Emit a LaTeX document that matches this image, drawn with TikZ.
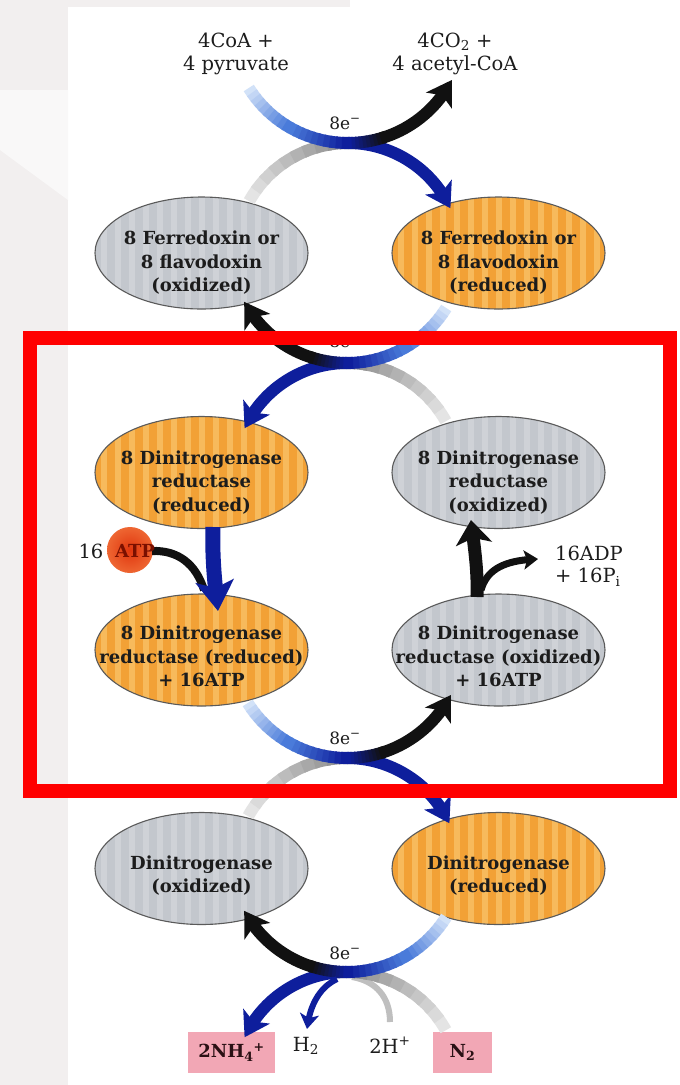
\documentclass[tikz,border=0pt]{standalone}
\usepackage{fontspec}
\setmainfont{DejaVu Serif}
\usetikzlibrary{arrows.meta,bending,shapes.geometric,calc}
\definecolor{bgg}{HTML}{F2EFEF}
\definecolor{gA}{HTML}{C3C7CD}
\definecolor{gB}{HTML}{CFD2D7}
\definecolor{oA}{HTML}{F2A136}
\definecolor{oB}{HTML}{F7BA5C}
\definecolor{eline}{HTML}{5A5A5A}
\definecolor{txt}{HTML}{1C1C1C}
\definecolor{lb}{HTML}{D2E2F8}
\definecolor{mb}{HTML}{4A7BDA}
\definecolor{db}{HTML}{0E1E9C}
\definecolor{bk}{HTML}{111111}
\definecolor{lg}{HTML}{E4E4E4}
\definecolor{mg}{HTML}{8A8A8A}
\definecolor{redline}{HTML}{FF0000}
\definecolor{pk}{HTML}{F2A7B5}
\definecolor{pktxt}{HTML}{2A1014}
\definecolor{atpin}{HTML}{E0360E}
\definecolor{atpout}{HTML}{EE6632}
\definecolor{atptxt}{HTML}{7A1000}

\newcommand{\etx}[2][-14pt]{\makebox[0pt]{\raisebox{#1}[0pt][0pt]{\begin{tabular}{@{}c@{}}#2\end{tabular}}}}
\newcommand{\stripes}[1]{\foreach \k in {-8,...,8}{\fill[#1] ($(path picture bounding box.center)+(\k*14-3,-60)$) rectangle ($(path picture bounding box.center)+(\k*14+3,60)$);}}
% gradient arc: center, R, a0, a1, c0, c1, width
\newcommand{\garc}[7]{%
  \foreach \i in {0,...,9}{%
    \pgfmathsetmacro\aa{#3+(#4-#3)*\i/10}%
    \pgfmathsetmacro\bb{#3+(#4-#3)*(\i+1.3)/10}%
    \pgfmathsetmacro\pc{100*\i/9}%
    \colorlet{tmpc}{#6!\pc!#5}%
    \draw[line width=#7, tmpc] (#1) ++(\aa:#2) arc[start angle=\aa, end angle=\bb, radius=#2];
  }%
}
% crossing, electrons flow left to right
\newcommand{\crossR}[1]{%
  \coordinate (#1u) at ($(#1)+(0,-117)$);
  \coordinate (#1n) at ($(#1)+(0,113)$);
  \garc{#1n}{113}{209}{272}{lg}{mg}{12pt}
  \draw[line width=12pt, db, bigtip] (#1n) ++(268:113) arc[start angle=268, end angle=335, radius=113];
  \garc{#1u}{117}{148}{120}{lb}{mb}{12pt}
  \garc{#1u}{117}{120}{90}{mb}{db}{12pt}
  \garc{#1u}{117}{90}{72}{db}{bk}{12pt}
  \draw[line width=12pt, bk, bigtip] (#1u) ++(73:117) arc[start angle=73, end angle=27.5, radius=117];
}
% crossing, electrons flow right to left
\newcommand{\crossL}[1]{%
  \coordinate (#1u) at ($(#1)+(0,-117)$);
  \coordinate (#1n) at ($(#1)+(0,113)$);
  \garc{#1n}{113}{331}{268}{lg}{mg}{12pt}
  \draw[line width=12pt, db, bigtip] (#1n) ++(272:113) arc[start angle=272, end angle=205, radius=113];
  \garc{#1u}{117}{32}{60}{lb}{mb}{12pt}
  \garc{#1u}{117}{60}{90}{mb}{db}{12pt}
  \garc{#1u}{117}{90}{108}{db}{bk}{12pt}
  \draw[line width=12pt, bk, bigtip] (#1u) ++(107:117) arc[start angle=107, end angle=151.5, radius=117];
}

\begin{document}
\begin{tikzpicture}[x=1pt,y=-1pt,
  bigtip/.style={-{Stealth[length=24pt,width=30pt,inset=6pt]}},
  ellbase/.style={ellipse, minimum width=213pt, minimum height=112pt, inner sep=0pt, draw=eline, line width=1.1pt, font=\fontsize{18}{23.5}\selectfont\bfseries, text=txt},
  oxi/.style={ellbase, fill=gA, path picture={\stripes{gB}}},
  redu/.style={ellbase, fill=oA, path picture={\stripes{oB}}},
  lab/.style={inner sep=0pt, align=center, font=\fontsize{19.5}{22.5}\selectfont, text=txt},
  elab/.style={inner sep=0pt, font=\fontsize{17}{20}\selectfont, text=txt},
  pinkbox/.style={fill=pk, minimum height=41pt, inner sep=0pt, font=\fontsize{18}{20}\selectfont\bfseries, text=pktxt}
]
\useasboundingbox (0,0) rectangle (680,1085);
% background
\fill[white] (0,0) rectangle (680,1085);
\fill[bgg] (0,0) rectangle (68,1085);
\fill[bgg] (0,0) rectangle (350,7);
\fill[white!55!bgg] (0,90) -- (68,90) -- (68,200) -- (0,150) -- cycle;

% ellipses
\node[oxi]  (fdo)  at (201.5,253)   {\etx[-15pt]{8 Ferredoxin or\\8 flavodoxin\\(oxidized)}};
\node[redu] (fdr)  at (498.5,253)   {\etx[-15pt]{8 Ferredoxin or\\8 flavodoxin\\(reduced)}};
\node[redu] (drr)  at (201.5,472.5) {\etx[-15pt]{8 Dinitrogenase\\reductase\\(reduced)}};
\node[oxi]  (dro)  at (498.5,472.5) {\etx[-15pt]{8 Dinitrogenase\\reductase\\(oxidized)}};
\node[redu] (drra) at (201.5,650)   {\etx[-13pt]{8 Dinitrogenase\\reductase (reduced)\\+ 16ATP}};
\node[oxi]  (droa) at (498.5,650)   {\etx[-13pt]{8 Dinitrogenase\\reductase (oxidized)\\+ 16ATP}};
\node[oxi]  (dno)  at (201.5,868.5) {\etx[-12pt]{Dinitrogenase\\(oxidized)}};
\node[redu] (dnr)  at (498.5,868.5) {\etx[-12pt]{Dinitrogenase\\(reduced)}};

% labels
\node[lab] (coa) at (236,54) {4CoA +\\4 pyruvate};
\node[lab] (aco) at (455,54) {4CO\textsubscript{2} +\\4 acetyl-CoA};
\node[elab] (e1) at (345,123) {8e\textsuperscript{−}};
\node[elab] (e2) at (345,341) {8e\textsuperscript{−}};
\node[elab] (e3) at (345,738) {8e\textsuperscript{−}};
\node[elab] (e4) at (345,953) {8e\textsuperscript{−}};
\node[lab, align=left] (adp) at (589,566) {16ADP\\+ 16P\textsubscript{i}};
\node[pinkbox, minimum width=87pt] (nh4) at (231.5,1052.5) {2NH\textsubscript{4}\textsuperscript{+}};
\node[pinkbox, minimum width=59pt] (n2) at (462.5,1052.5) {N\textsubscript{2}};
\node[lab] (h2) at (306,1046) {H\textsubscript{2}};
\node[lab] (hp) at (390,1045) {2H\textsuperscript{+}};

% junctions
\coordinate (J1) at (348,143);
\coordinate (J2) at (347,363);
\coordinate (J3) at (347,758);
\coordinate (J4) at (347,972);
\crossR{J1}
\crossL{J2}
\crossR{J3}

% last crossing with the H2 branch
\coordinate (hps) at (390,1022);
\coordinate (hj) at (352,977);
\coordinate (h2t) at (307,1029);
\draw[line width=6pt, mg!55!white] (hps) .. controls (390,997) and (376,981) .. (hj);
\crossL{J4}
\draw[line width=6pt, db, -{Stealth[length=15pt,width=19pt,inset=4pt]}] (337,979) .. controls (322,986) and (310,1002) .. (h2t);

% ATP input
\node[circle, minimum size=46pt, inner sep=0pt, shading=radial, inner color=atpin, outer color=atpout] (atp) at (130,550) {};
\node[lab] (n16) at (91,551) {16};
\coordinate (atpj) at (204,590);
\draw[line width=8pt, bk] (152,551) .. controls (178,550) and (196,564) .. (atpj);
\node[inner sep=0pt, font=\fontsize{18}{20}\selectfont\bfseries, text=atptxt] (atpt) at (135,551) {ATP};
\coordinate (drrs) at (213,527);
\coordinate (drrat) at (218,611);
\draw[line width=15pt, db, -{Stealth[length=30pt,width=38pt,inset=7pt]}] (drrs) .. controls (212,560) and (215,585) .. (drrat);

% ATP hydrolysis on the right
\coordinate (droas) at (477,597);
\coordinate (drot) at (471,520);
\coordinate (adpt) at (538,559);
\draw[line width=13pt, bk, -{Stealth[length=24pt,width=36pt,inset=6pt]}] (droas) .. controls (478,570) and (474,545) .. (drot);
\draw[line width=7pt, bk, -{Stealth[length=14pt,width=19pt,inset=3pt]}] (481,590) .. controls (487,569) and (505,560) .. (adpt);

% red frame
\draw[line width=14pt, redline] (29.5,337.5) rectangle (669.5,790.5);
\end{tikzpicture}
\end{document}
